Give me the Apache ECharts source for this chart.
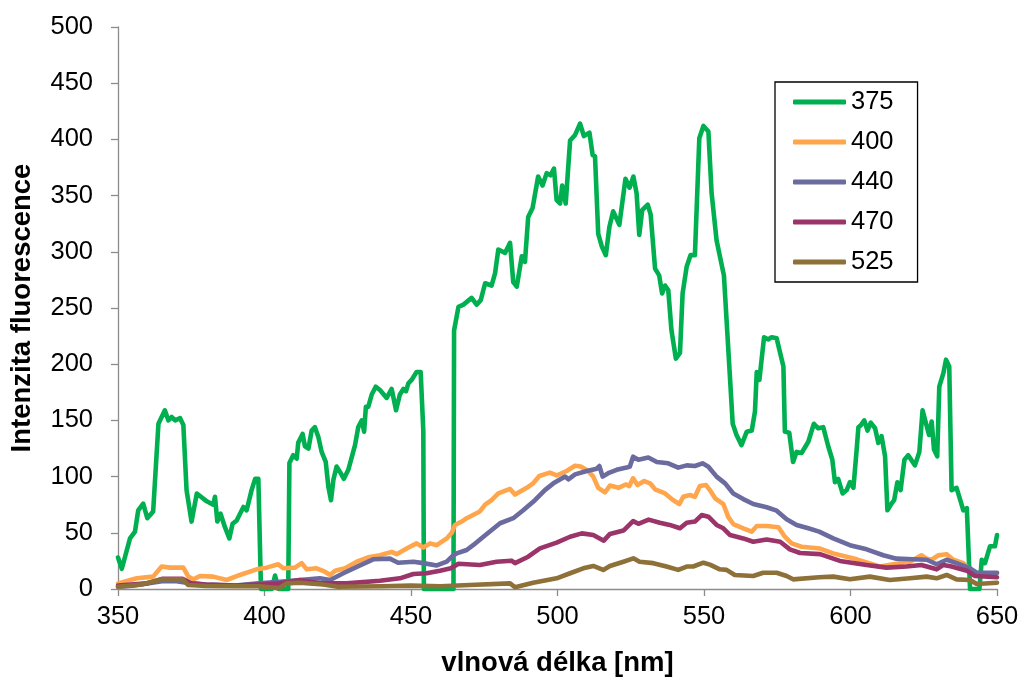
<!DOCTYPE html>
<html>
<head>
<meta charset="utf-8">
<script src="https://cdn.jsdelivr.net/npm/echarts@6/dist/echarts.min.js"></script>
<style>html,body{margin:0;padding:0;background:#fff}#c{width:1019px;height:677px}</style>
</head>
<body>
<div id="c"></div>
<script>
// ---- data (wavelength nm, fluorescence intensity) ----
var seriesNames = ['375', '400', '440', '470', '525'];
var xTicks = [350, 400, 450, 500, 550, 600, 650];
var yTicks = [0, 50, 100, 150, 200, 250, 300, 350, 400, 450, 500];

var wl375 = [350,351.3,354.1,355.8,356.9,358.6,360,362,363.8,366,367.2,368.3,369.5,371.2,372.3,373.4,375.1,376.9,380.3,382.5,383.1,383.9,385,386.5,388,389.1,390.5,392.8,393.9,395.6,396.8,397.9,398.8,402.5,403.6,404.8,408.1,408.5,409.8,411,411.5,413,413.8,415,416.1,417.2,418.4,419.5,420.9,421.8,422.7,423.5,424.6,425.8,427.1,428.6,430.9,432,433.2,434,434.6,435.4,436.6,438,439.4,441.7,443.4,444.9,446.2,447.4,448.3,449.1,450.2,451.9,453.3,454.2,454.4,464.5,464.7,466.2,467.9,470.7,472.4,473.8,475.3,477.5,478.7,479.8,482.1,483.8,484.9,486.1,487.8,488.9,490,491.5,493.4,494.9,496.3,497.6,498.8,499.7,500.9,501.6,502.8,504.3,506,507.7,509,510.9,512,512.8,513.9,515.1,516.5,517.7,519,521.1,523.2,524.6,525.9,527,527.9,528.9,530.8,531.8,533.3,534.7,535.7,536.7,537.8,538.9,540.4,541.8,542.7,544.1,545.4,546.9,548.4,549.8,551.5,552.6,554.3,556.8,558.3,559.8,561.1,562.8,564.6,566.3,567.4,568,568.9,569.7,570.5,572,573.1,574.8,577.1,577.6,579.1,580.4,581.6,583.3,585.6,587.5,589,590.7,592.4,593.8,594.7,595.8,597.3,598.7,599.8,601,602.1,602.7,603.6,604.7,605.8,606.9,608.4,609.5,610.6,611.8,612.6,614,614.9,616,617.1,618.4,619.7,622,623.5,624.6,625.8,626.8,627.7,628.5,629.6,630.3,631.7,632.6,633.7,634.5,636.2,637.6,638.5,639.7,640.8,644,644.8,645.9,647.6,649.3,650];
var int375 = [28,18,45,51,70,76,63,69,147,159,150,153,150,152,146,88,60,85,78,75,82,60,67,55,45,58,61,73,70,88,98,98,0,0,12,0,0,112,119,116,130,138,127,125,141,144,135,122,113,91,79,97,109,104,98,106,128,144,150,140,162,162,173,180,177,170,178,159,173,178,176,183,186,193,193,141,0,0,230,251,253,259,253,257,272,270,281,302,299,308,273,269,296,291,331,339,367,359,370,368,374,346,343,359,343,399,404,414,403,406,386,385,316,305,297,322,336,324,365,357,367,352,315,337,342,333,285,279,263,270,266,230,205,210,263,287,297,297,401,412,407,352,310,279,213,147,137,128,140,141,158,193,186,205,224,222,224,223,198,140,139,113,122,121,131,147,143,144,127,115,95,98,85,88,95,90,124,144,146,150,141,148,143,130,136,118,70,76,79,95,88,115,119,110,122,159,147,137,149,124,118,180,192,204,198,88,90,78,70,72,0,0,26,23,38,38,48];

var wl400 = [350,356.4,362,364.9,367.7,372.3,374,375.7,378,382.5,387.1,391.6,397.3,400.7,404.7,406.4,410.4,412.7,414.4,417.8,420.6,422.4,424.1,427.5,431.5,435.4,439.4,443.4,445.1,448.5,451.9,454.2,456.5,458.8,462.2,463.9,465,467.3,469,473.5,475.3,477.5,479.8,483.8,485.5,489.5,491.7,493.8,497.4,499.7,503.1,506,507.9,510.5,512.2,513.9,516.2,517.9,520.8,523.3,524.5,525.8,527.3,529.6,531.6,533.3,536.7,539.5,541.6,542.9,545.2,546.9,548.6,550.7,552,553.8,556.6,558.3,560,563.4,566.3,568,571.4,575.4,577.6,579.9,583.3,589.6,594.1,602.1,610,614.6,620.3,624.2,626,627.7,630,632.8,635.1,638.5,640.8,643.1,650];
var int400 = [5,9.5,11,20,19,19,11,8.6,11.6,11,8,12.5,17.5,19,22,18.4,19,23,17.5,18.4,15.4,12.5,16.3,18.4,24.3,28.2,30,33,31,36,40.6,37,40.6,39,45,50,57,60,63,69,75,79,85,89,84,90,94,100.5,103.5,101,105,109.7,109,105,100,90,86,92,90,93,91.6,98.5,92.5,96,94,88.7,85,79,75.6,82,83.6,82,91.6,92.5,88,80.7,75.6,64,57.8,54,51,56,56,55,46.5,40.6,37.6,36,31.7,26.4,20,22,24.3,30,27,26,30,31,26,23,17.5,12.5,14];

var wl440 = [350,355,360,365,370,375,380,390,398,405.3,412.1,418.9,422.4,426.9,432.6,437.1,442.8,445.6,450.8,454.2,458.8,462.2,464.4,465.6,469,471.2,474.7,480.4,484.9,488.3,492.3,495.7,498.6,502.6,503.7,506,510,513.4,514.3,515.4,517.3,520.2,523.6,524.7,525.8,527.6,531,533.9,537.8,541.2,544.1,546.9,549.5,551.5,554.3,557.2,560,563.4,566.8,571.4,574.8,578.2,581.6,585.6,589.3,594.1,599.8,605.5,611.2,615.7,621.4,626,629.4,632.8,636.2,640.2,643.1,650];
var int440 = [2,3,5,7,7,5,4,3,5,6.5,8,9.5,8,14,21,26.4,27,23.4,24.3,23,21,24.3,30,31.7,34.7,39,46.5,58.5,63,70,79,88,94,100,97.6,102,105,107,109.4,100,103,106,108,109,117.7,115,117,113,111.8,108,110,109.4,111.8,108.8,100,94,85,80,75.6,72.7,69.7,62,57,54,51,45,39,35.3,30,27,26.4,26,22,26,23,19.3,14.5,14.5];

var wl470 = [350,360,365,372,375,380,390,398,405.3,412.1,418.9,428,439.4,446.2,450.8,455.3,459.9,463.6,466.2,473.5,479.2,484.3,485.5,490,494,499.7,504.3,508.3,512.2,515.8,517.9,522.5,525.8,527.6,531.1,534.9,538.3,541.8,544.1,546.9,549.2,551.5,554.3,556.6,558.9,563.4,566.8,571.4,576,579.3,582.8,589.6,596.4,605.5,612.3,619.1,624.2,629.4,631.7,634.5,639.7,642.5,650];
var int470 = [3,5,9,9,5,4,3,4,5,8,5,5,7.4,9.5,13.3,14,16.3,18.4,22.5,21.4,24.3,25.2,23,28.7,36.2,41.2,46.5,49.5,48,43,49,52,60.4,58,61.7,59,57,54,59,60,65.8,64.3,57,54,48,45,42,44,42,35.3,32,31,25,21.4,19,20,21.4,17.5,21.4,20,16.3,11.6,10.4];

var wl525 = [350,358,365,372,374,380,390,398,405,407.5,412,420,425,440,450,460,470,483.8,485.5,491.7,499.7,504.3,508.8,512.2,515.6,517.9,522.5,525.9,528,532.7,537.2,541.2,544.1,546.3,549.8,552,555.4,557.7,560.5,566.8,570.2,574.8,578.2,580.4,589.3,594.1,599.8,606.6,613.4,620.3,626,629.4,632.8,636.2,640.8,643.1,650];
var int525 = [2,4,8.6,8.6,3.5,2.7,2.5,2.5,0.8,5,5.5,4,2,2.5,3,2.5,3.5,5,1.5,5.6,9.5,14,18.4,20.5,17,20.5,24.3,27.3,24.3,23,20,17,20,20,23.4,21.7,17.5,17,12.5,11.6,14.5,14.5,11.6,8.6,10.4,11,8.6,11,8,9.5,11,9.5,12.5,8.6,8,4.4,5.6];

var colors = ['#00B050', '#FFA64D', '#6B6B9F', '#9B3468', '#8E7139'];

function zip(xs, ys) { return xs.map(function (x, i) { return [x, ys[i]]; }); }
var dataSets = [zip(wl375, int375), zip(wl400, int400), zip(wl440, int440), zip(wl470, int470), zip(wl525, int525)];

var FONT = '"Liberation Sans", Arial, sans-serif';
var chart = echarts.init(document.getElementById('c'), null, { renderer: 'canvas' });
chart.setOption({
  animation: false,
  backgroundColor: '#ffffff',
  color: colors,
  grid: { left: 118, right: 22, top: 27, bottom: 88, containLabel: false, outerBoundsMode: 'none' },
  legend: {
    orient: 'vertical',
    left: 775, top: 82,
    padding: [7, 24, 7, 18],
    borderColor: '#000', borderWidth: 1.3,
    itemWidth: 53, itemHeight: 5, itemGap: 14,
    icon: 'roundRect',
    data: seriesNames,
    textStyle: { fontFamily: FONT, fontSize: 25.5, color: '#000' }
  },
  xAxis: {
    type: 'value', min: xTicks[0], max: xTicks[xTicks.length - 1], interval: 50,
    name: 'vlnová délka [nm]', nameLocation: 'middle', nameGap: 60,
    nameTextStyle: { fontFamily: FONT, fontSize: 27.5, fontWeight: 'bold', color: '#000' },
    axisLine: { onZero: false, lineStyle: { color: '#8c8c8c', width: 1.3 } },
    axisTick: { show: true, inside: false, length: 7, lineStyle: { color: '#8c8c8c', width: 1.3 } },
    axisLabel: { fontFamily: FONT, fontSize: 25.5, color: '#000', margin: 15, showMinLabel: true, showMaxLabel: true },
    splitLine: { show: false }
  },
  yAxis: {
    type: 'value', min: yTicks[0], max: yTicks[yTicks.length - 1], interval: 50,
    name: 'Intenzita fluorescence', nameLocation: 'middle', nameGap: 82,
    nameTextStyle: { fontFamily: FONT, fontSize: 27.5, fontWeight: 'bold', color: '#000' },
    axisLine: { show: true, lineStyle: { color: '#8c8c8c', width: 1.3 } },
    axisTick: { show: true, inside: false, length: 7, lineStyle: { color: '#8c8c8c', width: 1.3 } },
    axisLabel: { fontFamily: FONT, fontSize: 25.5, color: '#000', margin: 25 },
    splitLine: { show: false }
  },
  series: seriesNames.map(function (n, i) {
    return {
      name: n, type: 'line', data: dataSets[i],
      showSymbol: false, symbol: 'none', clip: false, z: 2 + i,
      lineStyle: { width: 4.6, color: colors[i], cap: 'round', join: 'round' },
      itemStyle: { color: colors[i] }
    };
  })
});
</script>
</body>
</html>
